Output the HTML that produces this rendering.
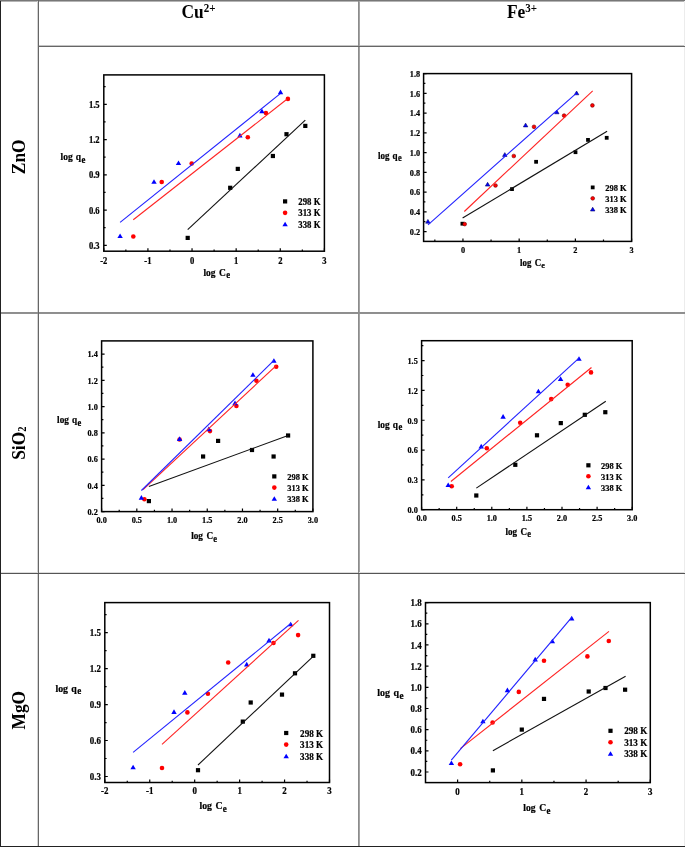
<!DOCTYPE html>
<html><head><meta charset="utf-8"><title>Isotherm plots</title>
<style>
html,body{margin:0;padding:0;background:#fff;}
body{width:685px;height:847px;overflow:hidden;position:relative;}
svg{position:absolute;left:0;top:0;display:block;will-change:transform;}
text{font-family:"Liberation Serif", serif;font-weight:bold;fill:#000;}
.t{font-size:8.6px;}
.c text{stroke:#000;stroke-width:0.2px;}
.l{font-size:8.8px;}
.a{font-size:9.5px;}
.s{font-size:8.2px;}
.h{font-size:17.4px;}
.hs{font-size:11px;}
.hb{font-size:10.5px;}
</style></head>
<body>
<svg width="685" height="847" viewBox="0 0 685 847">
<rect width="685" height="847" fill="#fff"/>
<rect x="1" y="1" width="684" height="1" fill="#b4b4b4"/>
<rect x="37" y="0" width="1" height="847" fill="#d4d4d4"/>
<rect x="38" y="45" width="647" height="1" fill="#c4c4c4"/>
<rect x="359" y="0" width="1" height="847" fill="#a4a4a4"/>
<rect x="0" y="572" width="685" height="1" fill="#dcdcdc"/>
<rect x="684" y="0" width="1" height="847" fill="#ececec"/>
<rect x="0" y="312" width="685" height="1" fill="#8e8e8e"/>
<rect x="0" y="313" width="685" height="1" fill="#909090"/>
<rect x="358" y="0" width="1" height="847" fill="#8c8c8c"/>
<rect x="0" y="0" width="685" height="1" fill="#777"/>
<rect x="38" y="0" width="1" height="847" fill="#666"/>
<rect x="38" y="46" width="647" height="1" fill="#666"/>
<rect x="0" y="573" width="685" height="1" fill="#555"/>
<rect x="0" y="846" width="685" height="1" fill="#222"/>
<rect x="0" y="1" width="1" height="846" fill="#222"/>
<text transform="translate(198.5 18.3) scale(1 1.1)" text-anchor="middle" class="h">Cu<tspan class="hs" dy="-5.8">2+</tspan></text>
<text transform="translate(522 18.3) scale(1 1.1)" text-anchor="middle" class="h">Fe<tspan class="hs" dy="-5.8">3+</tspan></text>
<text transform="translate(24.6 156.8) rotate(-90) scale(1 1.1)" text-anchor="middle" class="h">ZnO</text>
<text transform="translate(24.6 443.2) rotate(-90) scale(1 1.1)" text-anchor="middle" class="h">SiO<tspan class="hb" dy="1.0">2</tspan></text>
<text transform="translate(24.8 710.2) rotate(-90) scale(1 1.1)" text-anchor="middle" class="h">MgO</text>
<g class="c">
<rect x="185.60" y="235.80" width="4.20" height="4.20" fill="#000"/>
<rect x="228.10" y="185.70" width="4.20" height="4.20" fill="#000"/>
<rect x="235.70" y="166.80" width="4.20" height="4.20" fill="#000"/>
<rect x="270.80" y="153.90" width="4.20" height="4.20" fill="#000"/>
<rect x="284.40" y="132.10" width="4.20" height="4.20" fill="#000"/>
<rect x="303.20" y="123.80" width="4.20" height="4.20" fill="#000"/>
<circle cx="133.30" cy="236.50" r="2.30" fill="#f00"/>
<circle cx="161.70" cy="182.00" r="2.30" fill="#f00"/>
<circle cx="191.70" cy="163.50" r="2.30" fill="#f00"/>
<circle cx="247.80" cy="137.30" r="2.30" fill="#f00"/>
<circle cx="265.90" cy="113.00" r="2.30" fill="#f00"/>
<circle cx="287.90" cy="98.90" r="2.30" fill="#f00"/>
<polygon points="120.10,233.47 117.40,238.07 122.80,238.07" fill="#00f"/>
<polygon points="154.00,179.17 151.30,183.77 156.70,183.77" fill="#00f"/>
<polygon points="178.50,160.47 175.80,165.07 181.20,165.07" fill="#00f"/>
<polygon points="239.90,132.87 237.20,137.47 242.60,137.47" fill="#00f"/>
<polygon points="261.90,108.57 259.20,113.17 264.60,113.17" fill="#00f"/>
<polygon points="280.50,89.57 277.80,94.17 283.20,94.17" fill="#00f"/>
<line x1="187.7" y1="229.6" x2="305.3" y2="120.2" stroke="#111" stroke-width="1.1"/>
<line x1="133.3" y1="219.7" x2="286.9" y2="99.3" stroke="#f22" stroke-width="1.1"/>
<line x1="120.1" y1="222.4" x2="280.0" y2="93.9" stroke="#22f" stroke-width="1.1"/>
<path d="M103.80 251.20V248.20M147.92 251.20V248.20M192.04 251.20V248.20M236.16 251.20V248.20M280.28 251.20V248.20M324.40 251.20V248.20M125.86 251.20V249.40M169.98 251.20V249.40M214.10 251.20V249.40M258.22 251.20V249.40M302.34 251.20V249.40M103.80 245.32H106.80M103.80 210.06H106.80M103.80 174.80H106.80M103.80 139.54H106.80M103.80 104.28H106.80M103.80 227.69H105.60M103.80 192.43H105.60M103.80 157.17H105.60M103.80 121.91H105.60M103.80 86.65H105.60" stroke="#000" stroke-width="1.2" fill="none"/>
<rect x="103.8" y="74.9" width="220.60" height="176.30" fill="none" stroke="#000" stroke-width="1.5"/>
<text transform="translate(103.80 263.70) scale(1 1.08)" text-anchor="middle" style="font-size:8.60px">-2</text>
<text transform="translate(147.92 263.70) scale(1 1.08)" text-anchor="middle" style="font-size:8.60px">-1</text>
<text transform="translate(192.04 263.70) scale(1 1.08)" text-anchor="middle" style="font-size:8.60px">0</text>
<text transform="translate(236.16 263.70) scale(1 1.08)" text-anchor="middle" style="font-size:8.60px">1</text>
<text transform="translate(280.28 263.70) scale(1 1.08)" text-anchor="middle" style="font-size:8.60px">2</text>
<text transform="translate(324.40 263.70) scale(1 1.08)" text-anchor="middle" style="font-size:8.60px">3</text>
<text transform="translate(99.65 248.78) scale(1 1.08)" text-anchor="end" style="font-size:8.60px">0.3</text>
<text transform="translate(99.65 213.52) scale(1 1.08)" text-anchor="end" style="font-size:8.60px">0.6</text>
<text transform="translate(99.65 178.26) scale(1 1.08)" text-anchor="end" style="font-size:8.60px">0.9</text>
<text transform="translate(99.65 143.00) scale(1 1.08)" text-anchor="end" style="font-size:8.60px">1.2</text>
<text transform="translate(99.65 107.74) scale(1 1.08)" text-anchor="end" style="font-size:8.60px">1.5</text>
<rect x="283.00" y="199.30" width="4.20" height="4.20" fill="#000"/>
<circle cx="285.10" cy="212.85" r="2.30" fill="#f00"/>
<polygon points="285.10,221.77 282.40,226.37 287.80,226.37" fill="#00f"/>
<text transform="translate(298.30 204.75) scale(1 1.08)" style="font-size:8.80px">298 K</text>
<text transform="translate(298.30 216.20) scale(1 1.08)" style="font-size:8.80px">313 K</text>
<text transform="translate(298.30 227.65) scale(1 1.08)" style="font-size:8.80px">338 K</text>
<text transform="translate(203.41 275.50) scale(1 1.12)" style="font-size:9.50px">log</text><text transform="translate(219.04 275.50) scale(1 1.12)" style="font-size:9.50px">C</text><text transform="translate(226.18 278.00) scale(1 1.12)" style="font-size:8.74px">e</text>
<text transform="translate(60.51 160.20) scale(1 1.12)" style="font-size:9.50px">log</text><text transform="translate(75.81 160.20) scale(1 1.12)" style="font-size:9.50px">q</text><text transform="translate(81.58 162.70) scale(1 1.12)" style="font-size:8.74px">e</text>
</g>
<g class="c">
<rect x="460.51" y="221.81" width="3.78" height="3.78" fill="#000"/>
<rect x="510.11" y="187.21" width="3.78" height="3.78" fill="#000"/>
<rect x="534.21" y="159.91" width="3.78" height="3.78" fill="#000"/>
<rect x="573.61" y="150.31" width="3.78" height="3.78" fill="#000"/>
<rect x="586.11" y="138.01" width="3.78" height="3.78" fill="#000"/>
<rect x="604.81" y="135.91" width="3.78" height="3.78" fill="#000"/>
<circle cx="464.70" cy="224.10" r="1.87" fill="#f00" stroke="#700" stroke-width="0.6"/>
<circle cx="495.50" cy="185.50" r="1.87" fill="#f00" stroke="#700" stroke-width="0.6"/>
<circle cx="513.80" cy="156.00" r="1.87" fill="#f00" stroke="#700" stroke-width="0.6"/>
<circle cx="534.00" cy="126.80" r="1.87" fill="#f00" stroke="#700" stroke-width="0.6"/>
<circle cx="564.10" cy="115.60" r="1.87" fill="#f00" stroke="#700" stroke-width="0.6"/>
<circle cx="592.40" cy="105.40" r="1.87" fill="#f00" stroke="#700" stroke-width="0.6"/>
<polygon points="427.90,219.44 425.67,223.18 430.13,223.18" fill="#00f" stroke="#006" stroke-width="0.6" stroke-linejoin="miter"/>
<polygon points="487.60,182.34 485.37,186.08 489.83,186.08" fill="#00f" stroke="#006" stroke-width="0.6" stroke-linejoin="miter"/>
<polygon points="504.80,152.64 502.57,156.38 507.03,156.38" fill="#00f" stroke="#006" stroke-width="0.6" stroke-linejoin="miter"/>
<polygon points="525.60,123.14 523.37,126.88 527.83,126.88" fill="#00f" stroke="#006" stroke-width="0.6" stroke-linejoin="miter"/>
<polygon points="556.80,110.04 554.57,113.78 559.03,113.78" fill="#00f" stroke="#006" stroke-width="0.6" stroke-linejoin="miter"/>
<polygon points="576.60,91.04 574.37,94.78 578.83,94.78" fill="#00f" stroke="#006" stroke-width="0.6" stroke-linejoin="miter"/>
<line x1="462.6" y1="218" x2="607.1" y2="131.3" stroke="#111" stroke-width="1.1"/>
<line x1="464.3" y1="211.5" x2="592.7" y2="90.9" stroke="#f22" stroke-width="1.1"/>
<line x1="428.0" y1="224.8" x2="575.9" y2="93.6" stroke="#22f" stroke-width="1.1"/>
<path d="M462.95 241.40V238.40M519.17 241.40V238.40M575.38 241.40V238.40M631.60 241.40V238.40M434.84 241.40V239.60M491.06 241.40V239.60M547.28 241.40V239.60M603.49 241.40V239.60M423.60 231.53H426.60M423.60 211.79H426.60M423.60 192.05H426.60M423.60 172.31H426.60M423.60 152.56H426.60M423.60 132.82H426.60M423.60 113.08H426.60M423.60 93.34H426.60M423.60 73.60H426.60M423.60 221.66H425.40M423.60 201.92H425.40M423.60 182.18H425.40M423.60 162.44H425.40M423.60 142.69H425.40M423.60 122.95H425.40M423.60 103.21H425.40M423.60 83.47H425.40" stroke="#000" stroke-width="1.2" fill="none"/>
<rect x="423.6" y="73.6" width="208.00" height="167.80" fill="none" stroke="#000" stroke-width="1.5"/>
<text transform="translate(462.95 253.00) scale(1 1.08)" text-anchor="middle" style="font-size:8.26px">0</text>
<text transform="translate(519.17 253.00) scale(1 1.08)" text-anchor="middle" style="font-size:8.26px">1</text>
<text transform="translate(575.38 253.00) scale(1 1.08)" text-anchor="middle" style="font-size:8.26px">2</text>
<text transform="translate(631.60 253.00) scale(1 1.08)" text-anchor="middle" style="font-size:8.26px">3</text>
<text transform="translate(420.10 234.85) scale(1 1.08)" text-anchor="end" style="font-size:8.26px">0.2</text>
<text transform="translate(420.10 215.11) scale(1 1.08)" text-anchor="end" style="font-size:8.26px">0.4</text>
<text transform="translate(420.10 195.36) scale(1 1.08)" text-anchor="end" style="font-size:8.26px">0.6</text>
<text transform="translate(420.10 175.62) scale(1 1.08)" text-anchor="end" style="font-size:8.26px">0.8</text>
<text transform="translate(420.10 155.88) scale(1 1.08)" text-anchor="end" style="font-size:8.26px">1.0</text>
<text transform="translate(420.10 136.14) scale(1 1.08)" text-anchor="end" style="font-size:8.26px">1.2</text>
<text transform="translate(420.10 116.40) scale(1 1.08)" text-anchor="end" style="font-size:8.26px">1.4</text>
<text transform="translate(420.10 96.66) scale(1 1.08)" text-anchor="end" style="font-size:8.26px">1.6</text>
<text transform="translate(420.10 76.92) scale(1 1.08)" text-anchor="end" style="font-size:8.26px">1.8</text>
<rect x="590.81" y="185.51" width="3.78" height="3.78" fill="#000"/>
<circle cx="592.70" cy="198.35" r="1.87" fill="#f00" stroke="#700" stroke-width="0.6"/>
<polygon points="592.70,207.24 590.47,210.98 594.93,210.98" fill="#00f" stroke="#006" stroke-width="0.6" stroke-linejoin="miter"/>
<text transform="translate(605.30 191.11) scale(1 1.08)" style="font-size:8.45px">298 K</text>
<text transform="translate(605.30 202.06) scale(1 1.08)" style="font-size:8.45px">313 K</text>
<text transform="translate(605.30 213.01) scale(1 1.08)" style="font-size:8.45px">338 K</text>
<text transform="translate(520.02 265.90) scale(1 1.12)" style="font-size:8.90px">log</text><text transform="translate(534.67 265.90) scale(1 1.12)" style="font-size:8.90px">C</text><text transform="translate(541.36 268.40) scale(1 1.12)" style="font-size:8.19px">e</text>
<text transform="translate(378.02 158.50) scale(1 1.12)" style="font-size:9.01px">log</text><text transform="translate(392.52 158.50) scale(1 1.12)" style="font-size:9.01px">q</text><text transform="translate(397.99 161.00) scale(1 1.12)" style="font-size:8.29px">e</text>
</g>
<g class="c">
<rect x="146.80" y="499.00" width="4.20" height="4.20" fill="#000"/>
<rect x="201.00" y="454.40" width="4.20" height="4.20" fill="#000"/>
<rect x="216.00" y="438.80" width="4.20" height="4.20" fill="#000"/>
<rect x="249.90" y="447.90" width="4.20" height="4.20" fill="#000"/>
<rect x="271.50" y="454.40" width="4.20" height="4.20" fill="#000"/>
<rect x="286.00" y="433.40" width="4.20" height="4.20" fill="#000"/>
<circle cx="144.40" cy="499.30" r="2.30" fill="#f00"/>
<circle cx="179.60" cy="439.50" r="2.30" fill="#f00"/>
<circle cx="210.00" cy="431.10" r="2.30" fill="#f00"/>
<circle cx="236.40" cy="406.00" r="2.30" fill="#f00"/>
<circle cx="256.40" cy="380.80" r="2.30" fill="#f00"/>
<circle cx="276.20" cy="366.80" r="2.30" fill="#f00"/>
<polygon points="141.40,495.07 138.70,499.67 144.10,499.67" fill="#00f"/>
<polygon points="179.60,436.37 176.90,440.97 182.30,440.97" fill="#00f"/>
<polygon points="208.80,426.57 206.10,431.17 211.50,431.17" fill="#00f"/>
<polygon points="235.00,400.57 232.30,405.17 237.70,405.17" fill="#00f"/>
<polygon points="252.90,372.17 250.20,376.77 255.60,376.77" fill="#00f"/>
<polygon points="273.90,358.17 271.20,362.77 276.60,362.77" fill="#00f"/>
<line x1="148.9" y1="486.6" x2="288.1" y2="435.5" stroke="#111" stroke-width="1.1"/>
<line x1="143.1" y1="489.6" x2="276.2" y2="365.7" stroke="#f22" stroke-width="1.1"/>
<line x1="141.4" y1="490.5" x2="273.9" y2="360.4" stroke="#22f" stroke-width="1.1"/>
<path d="M101.60 511.60V508.60M136.82 511.60V508.60M172.03 511.60V508.60M207.25 511.60V508.60M242.47 511.60V508.60M277.68 511.60V508.60M312.90 511.60V508.60M119.21 511.60V509.80M154.42 511.60V509.80M189.64 511.60V509.80M224.86 511.60V509.80M260.07 511.60V509.80M295.29 511.60V509.80M101.60 511.60H104.60M101.60 485.34H104.60M101.60 459.08H104.60M101.60 432.82H104.60M101.60 406.55H104.60M101.60 380.29H104.60M101.60 354.03H104.60M101.60 498.47H103.40M101.60 472.21H103.40M101.60 445.95H103.40M101.60 419.68H103.40M101.60 393.42H103.40M101.60 367.16H103.40" stroke="#000" stroke-width="1.2" fill="none"/>
<rect x="101.6" y="340.9" width="211.30" height="170.70" fill="none" stroke="#000" stroke-width="1.5"/>
<text transform="translate(101.60 522.60) scale(1 1.08)" text-anchor="middle" style="font-size:8.26px">0.0</text>
<text transform="translate(136.82 522.60) scale(1 1.08)" text-anchor="middle" style="font-size:8.26px">0.5</text>
<text transform="translate(172.03 522.60) scale(1 1.08)" text-anchor="middle" style="font-size:8.26px">1.0</text>
<text transform="translate(207.25 522.60) scale(1 1.08)" text-anchor="middle" style="font-size:8.26px">1.5</text>
<text transform="translate(242.47 522.60) scale(1 1.08)" text-anchor="middle" style="font-size:8.26px">2.0</text>
<text transform="translate(277.68 522.60) scale(1 1.08)" text-anchor="middle" style="font-size:8.26px">2.5</text>
<text transform="translate(312.90 522.60) scale(1 1.08)" text-anchor="middle" style="font-size:8.26px">3.0</text>
<text transform="translate(97.80 514.92) scale(1 1.08)" text-anchor="end" style="font-size:8.26px">0.2</text>
<text transform="translate(97.80 488.66) scale(1 1.08)" text-anchor="end" style="font-size:8.26px">0.4</text>
<text transform="translate(97.80 462.39) scale(1 1.08)" text-anchor="end" style="font-size:8.26px">0.6</text>
<text transform="translate(97.80 436.13) scale(1 1.08)" text-anchor="end" style="font-size:8.26px">0.8</text>
<text transform="translate(97.80 409.87) scale(1 1.08)" text-anchor="end" style="font-size:8.26px">1.0</text>
<text transform="translate(97.80 383.61) scale(1 1.08)" text-anchor="end" style="font-size:8.26px">1.2</text>
<text transform="translate(97.80 357.35) scale(1 1.08)" text-anchor="end" style="font-size:8.26px">1.4</text>
<rect x="272.20" y="474.30" width="4.20" height="4.20" fill="#000"/>
<circle cx="274.30" cy="487.60" r="2.30" fill="#f00"/>
<polygon points="274.30,496.27 271.60,500.87 277.00,500.87" fill="#00f"/>
<text transform="translate(287.30 479.81) scale(1 1.08)" style="font-size:8.45px">298 K</text>
<text transform="translate(287.30 491.01) scale(1 1.08)" style="font-size:8.45px">313 K</text>
<text transform="translate(287.30 502.21) scale(1 1.08)" style="font-size:8.45px">338 K</text>
<text transform="translate(191.22 539.40) scale(1 1.12)" style="font-size:9.22px">log</text><text transform="translate(206.39 539.40) scale(1 1.12)" style="font-size:9.22px">C</text><text transform="translate(213.31 541.90) scale(1 1.12)" style="font-size:8.48px">e</text>
<text transform="translate(57.12 423.40) scale(1 1.12)" style="font-size:9.23px">log</text><text transform="translate(71.99 423.40) scale(1 1.12)" style="font-size:9.23px">q</text><text transform="translate(77.59 425.90) scale(1 1.12)" style="font-size:8.50px">e</text>
</g>
<g class="c">
<rect x="474.20" y="493.40" width="4.20" height="4.20" fill="#000"/>
<rect x="513.20" y="462.70" width="4.20" height="4.20" fill="#000"/>
<rect x="534.90" y="433.20" width="4.20" height="4.20" fill="#000"/>
<rect x="558.70" y="421.00" width="4.20" height="4.20" fill="#000"/>
<rect x="582.70" y="412.70" width="4.20" height="4.20" fill="#000"/>
<rect x="603.20" y="410.10" width="4.20" height="4.20" fill="#000"/>
<circle cx="451.70" cy="486.20" r="2.30" fill="#f00"/>
<circle cx="486.80" cy="448.20" r="2.30" fill="#f00"/>
<circle cx="520.20" cy="422.80" r="2.30" fill="#f00"/>
<circle cx="551.20" cy="399.10" r="2.30" fill="#f00"/>
<circle cx="567.70" cy="384.70" r="2.30" fill="#f00"/>
<circle cx="591.00" cy="372.40" r="2.30" fill="#f00"/>
<polygon points="448.20,482.47 445.50,487.07 450.90,487.07" fill="#00f"/>
<polygon points="481.20,443.87 478.50,448.47 483.90,448.47" fill="#00f"/>
<polygon points="503.10,414.07 500.40,418.67 505.80,418.67" fill="#00f"/>
<polygon points="538.40,388.67 535.70,393.27 541.10,393.27" fill="#00f"/>
<polygon points="560.60,376.37 557.90,380.97 563.30,380.97" fill="#00f"/>
<polygon points="579.00,356.27 576.30,360.87 581.70,360.87" fill="#00f"/>
<line x1="476.3" y1="488.1" x2="605.8" y2="401.3" stroke="#111" stroke-width="1.1"/>
<line x1="450.9" y1="481.5" x2="591.5" y2="367.5" stroke="#f22" stroke-width="1.1"/>
<line x1="448.2" y1="477.8" x2="578.7" y2="358.4" stroke="#22f" stroke-width="1.1"/>
<path d="M421.60 509.70V506.70M456.70 509.70V506.70M491.80 509.70V506.70M526.90 509.70V506.70M562.00 509.70V506.70M597.10 509.70V506.70M632.20 509.70V506.70M439.15 509.70V507.90M474.25 509.70V507.90M509.35 509.70V507.90M544.45 509.70V507.90M579.55 509.70V507.90M614.65 509.70V507.90M421.60 509.70H424.60M421.60 479.88H424.60M421.60 450.05H424.60M421.60 420.23H424.60M421.60 390.41H424.60M421.60 360.58H424.60M421.60 494.79H423.40M421.60 464.96H423.40M421.60 435.14H423.40M421.60 405.32H423.40M421.60 375.49H423.40M421.60 345.67H423.40" stroke="#000" stroke-width="1.2" fill="none"/>
<rect x="421.6" y="340.7" width="210.60" height="169.00" fill="none" stroke="#000" stroke-width="1.5"/>
<text transform="translate(421.60 521.20) scale(1 1.08)" text-anchor="middle" style="font-size:8.26px">0.0</text>
<text transform="translate(456.70 521.20) scale(1 1.08)" text-anchor="middle" style="font-size:8.26px">0.5</text>
<text transform="translate(491.80 521.20) scale(1 1.08)" text-anchor="middle" style="font-size:8.26px">1.0</text>
<text transform="translate(526.90 521.20) scale(1 1.08)" text-anchor="middle" style="font-size:8.26px">1.5</text>
<text transform="translate(562.00 521.20) scale(1 1.08)" text-anchor="middle" style="font-size:8.26px">2.0</text>
<text transform="translate(597.10 521.20) scale(1 1.08)" text-anchor="middle" style="font-size:8.26px">2.5</text>
<text transform="translate(632.20 521.20) scale(1 1.08)" text-anchor="middle" style="font-size:8.26px">3.0</text>
<text transform="translate(417.80 513.02) scale(1 1.08)" text-anchor="end" style="font-size:8.26px">0.0</text>
<text transform="translate(417.80 483.19) scale(1 1.08)" text-anchor="end" style="font-size:8.26px">0.3</text>
<text transform="translate(417.80 453.37) scale(1 1.08)" text-anchor="end" style="font-size:8.26px">0.6</text>
<text transform="translate(417.80 423.55) scale(1 1.08)" text-anchor="end" style="font-size:8.26px">0.9</text>
<text transform="translate(417.80 393.72) scale(1 1.08)" text-anchor="end" style="font-size:8.26px">1.2</text>
<text transform="translate(417.80 363.90) scale(1 1.08)" text-anchor="end" style="font-size:8.26px">1.5</text>
<rect x="586.30" y="463.20" width="4.20" height="4.20" fill="#000"/>
<circle cx="588.40" cy="476.25" r="2.30" fill="#f00"/>
<polygon points="588.40,484.67 585.70,489.27 591.10,489.27" fill="#00f"/>
<text transform="translate(601.10 469.21) scale(1 1.08)" style="font-size:8.45px">298 K</text>
<text transform="translate(601.10 480.16) scale(1 1.08)" style="font-size:8.45px">313 K</text>
<text transform="translate(601.10 491.11) scale(1 1.08)" style="font-size:8.45px">338 K</text>
<text transform="translate(505.42 534.60) scale(1 1.12)" style="font-size:9.11px">log</text><text transform="translate(520.42 534.60) scale(1 1.12)" style="font-size:9.11px">C</text><text transform="translate(527.26 537.10) scale(1 1.12)" style="font-size:8.39px">e</text>
<text transform="translate(377.71 427.70) scale(1 1.12)" style="font-size:9.35px">log</text><text transform="translate(392.77 427.70) scale(1 1.12)" style="font-size:9.35px">q</text><text transform="translate(398.44 430.20) scale(1 1.12)" style="font-size:8.60px">e</text>
</g>
<g class="c">
<rect x="195.90" y="768.10" width="4.20" height="4.20" fill="#000"/>
<rect x="240.70" y="719.50" width="4.20" height="4.20" fill="#000"/>
<rect x="248.60" y="700.40" width="4.20" height="4.20" fill="#000"/>
<rect x="279.90" y="692.50" width="4.20" height="4.20" fill="#000"/>
<rect x="292.90" y="671.20" width="4.20" height="4.20" fill="#000"/>
<rect x="311.20" y="653.70" width="4.20" height="4.20" fill="#000"/>
<circle cx="162.00" cy="768.00" r="2.30" fill="#f00"/>
<circle cx="187.40" cy="712.40" r="2.30" fill="#f00"/>
<circle cx="207.90" cy="693.80" r="2.30" fill="#f00"/>
<circle cx="228.20" cy="662.50" r="2.30" fill="#f00"/>
<circle cx="273.50" cy="643.00" r="2.30" fill="#f00"/>
<circle cx="298.10" cy="635.10" r="2.30" fill="#f00"/>
<polygon points="133.10,764.77 130.40,769.37 135.80,769.37" fill="#00f"/>
<polygon points="174.00,709.37 171.30,713.97 176.70,713.97" fill="#00f"/>
<polygon points="184.80,690.07 182.10,694.67 187.50,694.67" fill="#00f"/>
<polygon points="246.70,661.87 244.00,666.47 249.40,666.47" fill="#00f"/>
<polygon points="269.00,637.87 266.30,642.47 271.70,642.47" fill="#00f"/>
<polygon points="290.70,621.67 288.00,626.27 293.40,626.27" fill="#00f"/>
<line x1="198" y1="765" x2="313.7" y2="655.8" stroke="#111" stroke-width="1.1"/>
<line x1="162" y1="744.3" x2="298.5" y2="620.3" stroke="#f22" stroke-width="1.1"/>
<line x1="133.1" y1="752.4" x2="291.1" y2="623.3" stroke="#22f" stroke-width="1.1"/>
<path d="M104.80 782.50V779.50M149.74 782.50V779.50M194.68 782.50V779.50M239.62 782.50V779.50M284.56 782.50V779.50M329.50 782.50V779.50M127.27 782.50V780.70M172.21 782.50V780.70M217.15 782.50V780.70M262.09 782.50V780.70M307.03 782.50V780.70M104.80 776.50H107.80M104.80 740.52H107.80M104.80 704.54H107.80M104.80 668.56H107.80M104.80 632.58H107.80M104.80 758.51H106.60M104.80 722.53H106.60M104.80 686.55H106.60M104.80 650.57H106.60M104.80 614.59H106.60" stroke="#000" stroke-width="1.2" fill="none"/>
<rect x="104.8" y="602.6" width="224.70" height="179.90" fill="none" stroke="#000" stroke-width="1.5"/>
<text transform="translate(104.80 793.70) scale(1 1.08)" text-anchor="middle" style="font-size:8.94px">-2</text>
<text transform="translate(149.74 793.70) scale(1 1.08)" text-anchor="middle" style="font-size:8.94px">-1</text>
<text transform="translate(194.68 793.70) scale(1 1.08)" text-anchor="middle" style="font-size:8.94px">0</text>
<text transform="translate(239.62 793.70) scale(1 1.08)" text-anchor="middle" style="font-size:8.94px">1</text>
<text transform="translate(284.56 793.70) scale(1 1.08)" text-anchor="middle" style="font-size:8.94px">2</text>
<text transform="translate(329.50 793.70) scale(1 1.08)" text-anchor="middle" style="font-size:8.94px">3</text>
<text transform="translate(101.00 780.10) scale(1 1.08)" text-anchor="end" style="font-size:8.94px">0.3</text>
<text transform="translate(101.00 744.12) scale(1 1.08)" text-anchor="end" style="font-size:8.94px">0.6</text>
<text transform="translate(101.00 708.14) scale(1 1.08)" text-anchor="end" style="font-size:8.94px">0.9</text>
<text transform="translate(101.00 672.16) scale(1 1.08)" text-anchor="end" style="font-size:8.94px">1.2</text>
<text transform="translate(101.00 636.18) scale(1 1.08)" text-anchor="end" style="font-size:8.94px">1.5</text>
<rect x="284.10" y="730.90" width="4.20" height="4.20" fill="#000"/>
<circle cx="286.20" cy="744.60" r="2.30" fill="#f00"/>
<polygon points="286.20,753.67 283.50,758.27 288.90,758.27" fill="#00f"/>
<text transform="translate(300.10 736.88) scale(1 1.08)" style="font-size:9.15px">298 K</text>
<text transform="translate(300.10 748.48) scale(1 1.08)" style="font-size:9.15px">313 K</text>
<text transform="translate(300.10 760.08) scale(1 1.08)" style="font-size:9.15px">338 K</text>
<text transform="translate(199.51 809.40) scale(1 1.12)" style="font-size:9.75px">log</text><text transform="translate(215.54 809.40) scale(1 1.12)" style="font-size:9.75px">C</text><text transform="translate(222.86 811.90) scale(1 1.12)" style="font-size:8.97px">e</text>
<text transform="translate(55.40 691.50) scale(1 1.12)" style="font-size:9.88px">log</text><text transform="translate(71.31 691.50) scale(1 1.12)" style="font-size:9.88px">q</text><text transform="translate(77.31 694.00) scale(1 1.12)" style="font-size:9.09px">e</text>
</g>
<g class="c">
<rect x="490.80" y="768.30" width="4.20" height="4.20" fill="#000"/>
<rect x="519.70" y="727.50" width="4.20" height="4.20" fill="#000"/>
<rect x="541.90" y="696.80" width="4.20" height="4.20" fill="#000"/>
<rect x="586.60" y="689.40" width="4.20" height="4.20" fill="#000"/>
<rect x="603.40" y="685.90" width="4.20" height="4.20" fill="#000"/>
<rect x="623.00" y="687.60" width="4.20" height="4.20" fill="#000"/>
<circle cx="460.10" cy="764.20" r="2.30" fill="#f00"/>
<circle cx="492.60" cy="722.50" r="2.30" fill="#f00"/>
<circle cx="518.80" cy="691.90" r="2.30" fill="#f00"/>
<circle cx="544.00" cy="660.80" r="2.30" fill="#f00"/>
<circle cx="587.40" cy="656.40" r="2.30" fill="#f00"/>
<circle cx="608.80" cy="641.00" r="2.30" fill="#f00"/>
<polygon points="451.40,760.47 448.70,765.07 454.10,765.07" fill="#00f"/>
<polygon points="482.90,718.77 480.20,723.37 485.60,723.37" fill="#00f"/>
<polygon points="507.40,687.57 504.70,692.17 510.10,692.17" fill="#00f"/>
<polygon points="535.20,656.87 532.50,661.47 537.90,661.47" fill="#00f"/>
<polygon points="552.40,638.67 549.70,643.27 555.10,643.27" fill="#00f"/>
<polygon points="571.70,615.87 569.00,620.47 574.40,620.47" fill="#00f"/>
<line x1="492.9" y1="750.7" x2="625.6" y2="676.2" stroke="#111" stroke-width="1.1"/>
<line x1="460.3" y1="748.6" x2="609" y2="631.4" stroke="#f22" stroke-width="1.1"/>
<line x1="451.3" y1="760.2" x2="571.7" y2="617.3" stroke="#22f" stroke-width="1.1"/>
<path d="M457.61 782.60V779.60M521.84 782.60V779.60M586.07 782.60V779.60M650.30 782.60V779.60M489.73 782.60V780.80M553.96 782.60V780.80M618.19 782.60V780.80M425.50 772.01H428.50M425.50 750.84H428.50M425.50 729.66H428.50M425.50 708.48H428.50M425.50 687.31H428.50M425.50 666.13H428.50M425.50 644.95H428.50M425.50 623.78H428.50M425.50 602.60H428.50M425.50 761.42H427.30M425.50 740.25H427.30M425.50 719.07H427.30M425.50 697.89H427.30M425.50 676.72H427.30M425.50 655.54H427.30M425.50 634.36H427.30M425.50 613.19H427.30" stroke="#000" stroke-width="1.2" fill="none"/>
<rect x="425.5" y="602.6" width="224.80" height="180.00" fill="none" stroke="#000" stroke-width="1.5"/>
<text transform="translate(457.61 794.60) scale(1 1.08)" text-anchor="middle" style="font-size:8.94px">0</text>
<text transform="translate(521.84 794.60) scale(1 1.08)" text-anchor="middle" style="font-size:8.94px">1</text>
<text transform="translate(586.07 794.60) scale(1 1.08)" text-anchor="middle" style="font-size:8.94px">2</text>
<text transform="translate(650.30 794.60) scale(1 1.08)" text-anchor="middle" style="font-size:8.94px">3</text>
<text transform="translate(421.70 775.61) scale(1 1.08)" text-anchor="end" style="font-size:8.94px">0.2</text>
<text transform="translate(421.70 754.43) scale(1 1.08)" text-anchor="end" style="font-size:8.94px">0.4</text>
<text transform="translate(421.70 733.25) scale(1 1.08)" text-anchor="end" style="font-size:8.94px">0.6</text>
<text transform="translate(421.70 712.08) scale(1 1.08)" text-anchor="end" style="font-size:8.94px">0.8</text>
<text transform="translate(421.70 690.90) scale(1 1.08)" text-anchor="end" style="font-size:8.94px">1.0</text>
<text transform="translate(421.70 669.72) scale(1 1.08)" text-anchor="end" style="font-size:8.94px">1.2</text>
<text transform="translate(421.70 648.55) scale(1 1.08)" text-anchor="end" style="font-size:8.94px">1.4</text>
<text transform="translate(421.70 627.37) scale(1 1.08)" text-anchor="end" style="font-size:8.94px">1.6</text>
<text transform="translate(421.70 606.19) scale(1 1.08)" text-anchor="end" style="font-size:8.94px">1.8</text>
<rect x="608.40" y="728.70" width="4.20" height="4.20" fill="#000"/>
<circle cx="610.50" cy="742.30" r="2.30" fill="#f00"/>
<polygon points="610.50,751.27 607.80,755.87 613.20,755.87" fill="#00f"/>
<text transform="translate(624.20 734.48) scale(1 1.08)" style="font-size:9.15px">298 K</text>
<text transform="translate(624.20 745.98) scale(1 1.08)" style="font-size:9.15px">313 K</text>
<text transform="translate(624.20 757.48) scale(1 1.08)" style="font-size:9.15px">338 K</text>
<text transform="translate(523.31 811.20) scale(1 1.12)" style="font-size:9.64px">log</text><text transform="translate(539.17 811.20) scale(1 1.12)" style="font-size:9.64px">C</text><text transform="translate(546.41 813.70) scale(1 1.12)" style="font-size:8.87px">e</text>
<text transform="translate(377.30 696.30) scale(1 1.12)" style="font-size:9.99px">log</text><text transform="translate(393.40 696.30) scale(1 1.12)" style="font-size:9.99px">q</text><text transform="translate(399.46 698.80) scale(1 1.12)" style="font-size:9.19px">e</text>
</g>
</svg>
</body></html>
